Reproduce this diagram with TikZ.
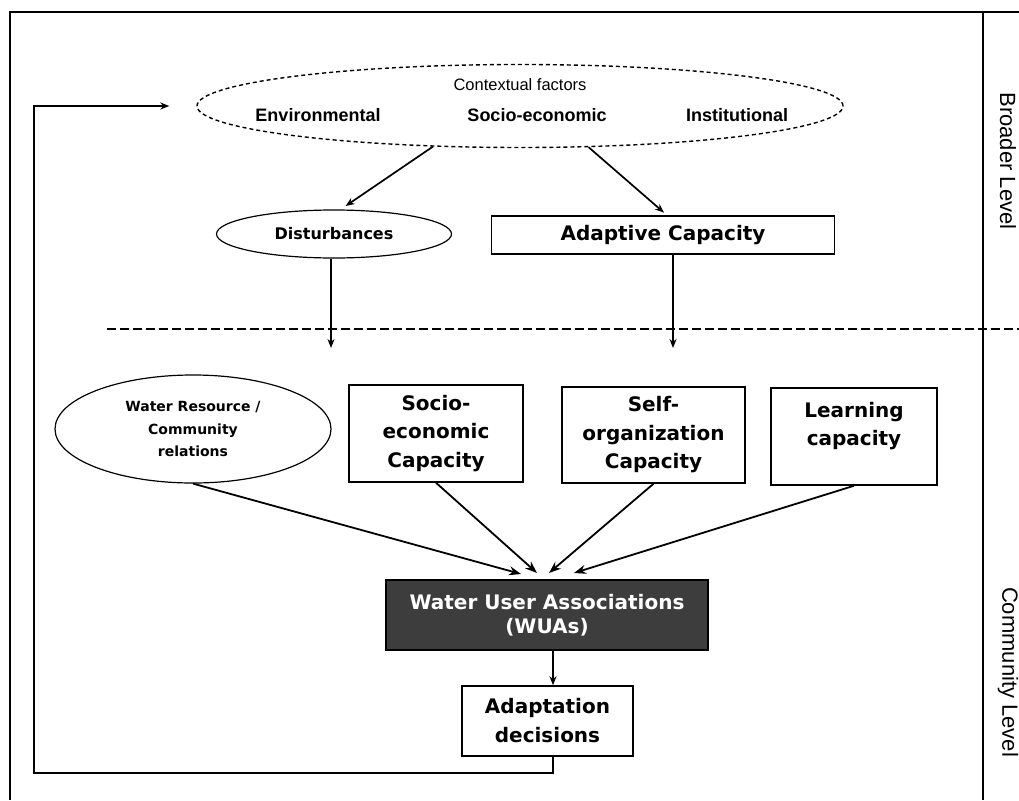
\documentclass[tikz,border=0pt]{standalone}
\usepackage{fontspec}
\setmainfont{Liberation Sans}
\newfontfamily\tah{DejaVu Sans}
\usetikzlibrary{arrows.meta}
\usetikzlibrary{shapes.geometric}
\definecolor{dg}{rgb}{.24,.24,.24}

\begin{document}
\begin{tikzpicture}[
      x=1pt, y=-1pt,
      every node/.style={inner sep=0pt, align=center},
      box/.style={draw, rectangle, line width=1.5pt},
      oval/.style={draw, ellipse, line width=1.2pt},
      >={Stealth[length=9pt, width=7pt]}, line width=1.4pt]

        \useasboundingbox (0,0) rectangle (1019,800);

        % frame
        \draw[line width=1.8pt] (1019,12) -- (10,12) -- (10,800);
        \draw[line width=1.4pt] (983,12) -- (983,800);
        \draw[line width=1.5pt, dash pattern=on 9pt off 4pt] (107,329) -- (1019,329);

        {\fontsize{22}{22}\selectfont
        \node[rotate=-90] (broad) at (1008,161) {Broader Level};
        \node[rotate=-90] (comm) at (1008,672) {Community Level};
        }

        % broader level
        \node[oval, line width=1.4pt, dash pattern=on 4pt off 3pt,
              minimum width=646pt, minimum height=83pt] (ctx) at (520,106) {};

        {\fontsize{16.5}{16.5}\selectfont
        \node (ctxf) at (520,85) {Contextual factors};
        }

        {\fontsize{18}{18}\selectfont\bfseries
        \node (env) at (318,115) {Environmental};
        \node (soe) at (537,115) {Socio-economic};
        \node (inst) at (737,115) {Institutional};
        }

        {\tah\bfseries\fontsize{16}{16}\selectfont
        \node[oval, minimum width=235pt, minimum height=48pt] (dist) at (334,234) {Disturbances};
        }

        {\tah\bfseries\fontsize{20}{20}\selectfont
        \node[box, minimum width=343pt, minimum height=38pt] (adcap) at (663,235) {Adaptive Capacity};
        }

        \draw[->, line width=1.7pt, shorten >=6pt] (ctx.205) -- (dist.75);
        \draw[->, line width=1.7pt, shorten >=4pt] (ctx.-31) -- ([xshift=4pt]adcap.north);

        \coordinate (dend) at (331,348);
        \coordinate (aend) at (673,348);
        \draw[->] (dist.south -| dend) -- (dend);
        \draw[->] (adcap.south -| aend) -- (aend);

        % community level
        {\tah\bfseries\fontsize{14}{22.5}\selectfont
        \node[oval, minimum width=276pt, minimum height=108pt] (wrc) at (193,429)
             {Water Resource /\\Community\\relations};
        }

        {\tah\bfseries\fontsize{20}{28.5}\selectfont
        \node[box, minimum width=174pt, minimum height=97pt] (sec) at (436,433.5)
             {Socio-\\economic\\Capacity};
        \node[box, minimum width=183pt, minimum height=96pt] (soc) at (653.5,435)
             {Self-\\organization\\Capacity};
        \node[box, minimum width=166pt, minimum height=97pt] (lc) at (854,436.5) {};
        \node (lctext) at (854,426) {Learning\\capacity};
        }

        \coordinate (t1) at (521,574);
        \coordinate (t2) at (537,573);
        \coordinate (t3) at (549,573);
        \coordinate (t4) at (574,573);

        \foreach \n/\t in {wrc/t1, sec/t2, soc/t3, lc/t4}
          \draw[-{Stealth[length=12pt, width=9pt]}, line width=1.8pt] (\n.south) -- (\t);

        {\tah\bfseries\fontsize{20}{24}\selectfont
        \node[box, fill=dg, text=white, minimum width=322pt, minimum height=70pt] (wua) at (547,615)
             {Water User Associations\\(WUAs)};
        }

        {\tah\bfseries\fontsize{20}{29}\selectfont
        \node[box, minimum width=171pt, minimum height=70pt] (adec) at (547.5,721)
             {Adaptation\\decisions};
        }

        \draw[->] ([xshift=6pt]wua.south) -- ([xshift=5.5pt]adec.north);

        % feedback
        \coordinate (fb) at (34,773);
        \draw[->, shorten >=27pt] ([xshift=5.5pt]adec.south) |- (fb) |- (ctx.west);

      \end{tikzpicture}
\end{document}
